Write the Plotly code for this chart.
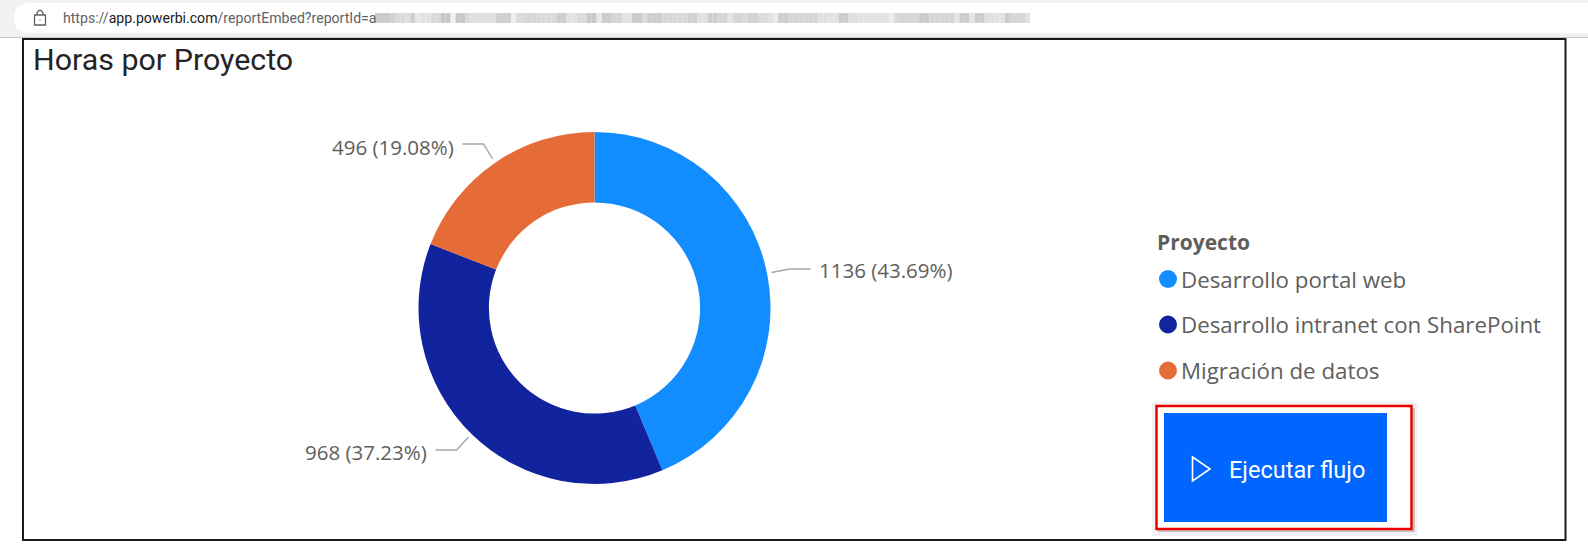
import math
import plotly.graph_objects as go

# ---- data ----
categories = ["Desarrollo portal web", "Desarrollo intranet con SharePoint", "Migración de datos"]
hours = [1136, 968, 496]
percents = ["43.69%", "37.23%", "19.08%"]
slice_colors = ["#118DFF", "#12239E", "#E66C37"]
title_text = "Horas por Proyecto"
legend_title = "Proyecto"
button_text = "Ejecutar flujo"
url_parts = ["https://", "app.powerbi.com", "/reportEmbed?reportId=a"]
blur_shades = [203,203,203,210,218,218,222,206,232,226,226,218,218,200,200,
               240,200,200,218,224,224,224,224,224,208,208,208,238,218,218,
               214,214,218,218,218,218,204,204,226,226,218,218,200,200,232,
               204,204,214,214,228,228,204,204,222,
               206,206,206,216,216,216,216,216,208,208,226,226,
               206,206,214,214,228,214,214,220,210,210,220,220,226,234,
               206,206,214,214,214,214,214,214,224,224,226,226,
               204,204,222,222,226,226,226,226,226,226,
               238,218,214,214,214,214,204,204,214,214,214,214,214,230,
               204,204,228,204,204,224,224,226,226,204,214,214,214,226]

W, H = 1588, 558
CX, CY, R = 594.5, 308.0, 176.0
HOLE = 0.6
FONT_UI = "Open Sans, Noto Sans, sans-serif"
FONT_TITLE = "Roboto, sans-serif"
GREY = "#605E5C"

fig = go.Figure()
fig.add_trace(go.Pie(
    labels=categories, values=hours, sort=False, direction="clockwise", rotation=0,
    hole=HOLE, marker=dict(colors=slice_colors, line=dict(width=0)),
    textinfo="none", showlegend=False, hoverinfo="label+value+percent",
    domain=dict(x=[(CX - R) / W, (CX + R) / W], y=[1 - (CY + R) / H, 1 - (CY - R) / H]),
))

shapes = []
annots = []


def rect(x0, y0, x1, y1, fill, line=None, lw=0, layer="below"):
    shapes.append(dict(type="rect", x0=x0, y0=y0, x1=x1, y1=y1, fillcolor=fill, layer=layer,
                       line=dict(color=line or fill, width=lw)))


def text(x, y, s, size, color=GREY, anchor="left", font=FONT_UI):
    annots.append(dict(x=x, y=y, text=s, showarrow=False, xanchor=anchor, yanchor="middle",
                       xref="x", yref="y", font=dict(size=size, color=color, family=font),
                       borderpad=0, borderwidth=0))


# browser chrome
rect(0, 0, W, 38, "#F1F1F1")
shapes.append(dict(type="path", layer="below", fillcolor="#FFFFFF", line=dict(width=0),
                   path="M 30 3 L %d 3 L %d 33 L 30 33 Q 14 33 14 18 Q 14 3 30 3 Z" % (W, W)))
shapes.append(dict(type="line", x0=0, x1=W, y0=37.5, y1=37.5, line=dict(color="#C8C8C8", width=1), layer="below"))
# lock icon
rect(34.5, 15, 45.5, 25, "#FFFFFF", "#5F6368", 1.3)
shapes.append(dict(type="path", path="M 37 15 L 37 12.5 Q 40 8 43 12.5 L 43 15", line=dict(color="#5F6368", width=1.3)))
rect(39.4, 19.4, 40.6, 20.6, "#5F6368")
annots.append(dict(x=60.5, y=18, xref="x", yref="y", showarrow=False, xanchor="left", yanchor="middle",
                   text="<span style='color:#5F6368'>%s</span><span style='color:#202124'>%s</span>"
                        "<span style='color:#5F6368'>%s</span>" % tuple(url_parts),
                   font=dict(size=14.1, family="Roboto, sans-serif")))
blur_w = (1030 - 375) / len(blur_shades)
for i, g in enumerate(blur_shades):
    x0 = 375 + i * blur_w
    rect(x0, 13, x0 + blur_w, 23, "rgb(%d,%d,%d)" % (g, g, g))

# outer frame
rect(23, 39, 1565.5, 540, "rgba(0,0,0,0)", "#1A1A1A", 2)
text(33, 59.5, title_text, 30.4, "#252423", font=FONT_TITLE)

# leader lines & labels: leader start follows each slice's mid angle
total = sum(hours)
cum = 0
sides = [1, -1, -1]
label_x = [819, 427, 454]
label_y = [269.5, 451.5, 146.5]
line_y = [269, 450, 144]
for v, p, side, lx, tly, ly in zip(hours, percents, sides, label_x, label_y, line_y):
    mid = (cum + v / 2) / total * 2 * math.pi
    cum += v
    sx, sy = CX + (R + 4.5) * math.sin(mid), CY - (R + 4.5) * math.cos(mid)
    end_x = lx - side * 8.5
    knee_x = end_x - side * 21
    shapes.append(dict(type="path", line=dict(color="#A6A6A6", width=1.4),
                       path="M %.1f %.1f L %.1f %.1f L %.1f %.1f" % (sx, sy, knee_x, ly, end_x, ly)))
    text(lx, tly, "%d (%s)" % (v, p), 20.5, anchor="left" if side > 0 else "right")

# legend
text(1157, 242, "<b>%s</b>" % legend_title, 21)
for name, col, ly in zip(categories, slice_colors, [279, 324.5, 370.5]):
    shapes.append(dict(type="circle", x0=1159, x1=1177, y0=ly - 9, y1=ly + 9, fillcolor=col, line=dict(width=0)))
    text(1180.5, ly, name, 22.3)

# button
rect(1152, 402, 1418, 536, "rgba(0,0,0,0.05)")
rect(1158, 408, 1415, 532, "rgba(0,0,0,0.18)")
rect(1156.5, 406, 1411.5, 529, "#FFFFFF", "#EE0000", 2.5)
rect(1164, 413, 1387, 522, "#0066FF")
shapes.append(dict(type="path", path="M 1192.5 457 L 1210 469 L 1192.5 481 Z", line=dict(color="#FFFFFF", width=1.6)))
text(1229, 470, button_text, 23.5, "#FFFFFF", font=FONT_TITLE)

fig.update_layout(
    width=W, height=H, margin=dict(l=0, r=0, t=0, b=0), autosize=False,
    paper_bgcolor="#FFFFFF", plot_bgcolor="rgba(0,0,0,0)", showlegend=False,
    xaxis=dict(range=[0, W], visible=False, fixedrange=True),
    yaxis=dict(range=[H, 0], visible=False, fixedrange=True),
    shapes=shapes, annotations=annots,
)
fig.add_trace(go.Scatter(x=[0, W], y=[0, H], mode="markers", marker=dict(opacity=0), hoverinfo="skip", showlegend=False))
fig.write_html("out.html", config={"displayModeBar": False},
               post_script="document.body.style.margin='0';document.documentElement.style.overflow='hidden';")
